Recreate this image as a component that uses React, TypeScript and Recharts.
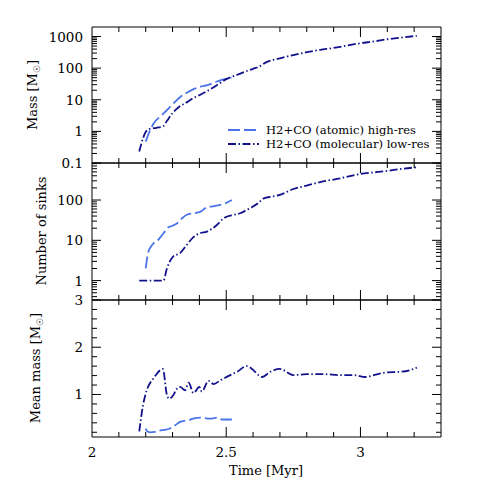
import React from 'react';
import { LineChart, Line, XAxis, YAxis, ReferenceArea } from 'recharts';

const W = 498;
const H = 498;
const LEFT = 92;
const RIGHT = 441;
const FONT = '"DejaVu Serif", serif';
const LIGHT = '#4b74e8';
const DARK = '#12128c';
const LIGHT_DASH = '12 4';
const DARK_DASH = '8 2.5 1.5 2.5';

// time axis
const timeTicks = [2.1, 2.2, 2.3, 2.4, 2.5, 2.6, 2.7, 2.8, 2.9, 3, 3.1, 3.2];
const timeLabels = [2, 2.5, 3];

// total mass [Msun]
const massHighT = [2.2, 2.21, 2.23, 2.255, 2.28, 2.305, 2.33, 2.355, 2.38, 2.405, 2.43, 2.455, 2.48, 2.5, 2.52];
const massHigh = [0.47, 0.8, 1.8, 3.0, 4.8, 8, 12.5, 17, 22, 26, 29, 35, 42, 46, 50];
const massLowT = [2.176, 2.19, 2.2, 2.215, 2.24, 2.265, 2.28, 2.3, 2.325, 2.35, 2.375, 2.4, 2.425, 2.45, 2.475, 2.5, 2.525, 2.55, 2.575, 2.6, 2.625, 2.65, 2.7, 2.75, 2.8, 2.85, 2.9, 2.95, 3.0, 3.05, 3.1, 3.15, 3.21];
const massLow = [0.23, 0.6, 0.95, 1.2, 1.3, 1.45, 2.2, 3.8, 6.0, 8.0, 11, 14, 18, 24, 33, 45, 55, 66, 80, 95, 115, 155, 205, 260, 320, 380, 435, 520, 615, 700, 820, 920, 1050];

// number of sinks
const sinksHighT = [2.2, 2.205, 2.21, 2.22, 2.23, 2.245, 2.255, 2.27, 2.28, 2.3, 2.316, 2.335, 2.353, 2.38, 2.403, 2.428, 2.45, 2.478, 2.5, 2.521];
const sinksHigh = [2, 3.5, 5.2, 7, 8.5, 10, 12, 16, 20, 23, 26, 35, 43, 47, 51, 66, 70, 76, 85, 100];
const sinksLowT = [2.176, 2.2, 2.23, 2.266, 2.279, 2.29, 2.303, 2.328, 2.353, 2.378, 2.403, 2.428, 2.445, 2.465, 2.49, 2.528, 2.552, 2.577, 2.6, 2.62, 2.64, 2.67, 2.7, 2.75, 2.8, 2.85, 2.913, 2.96, 3.0, 3.05, 3.1, 3.15, 3.21];
const sinksLow = [1, 1, 1, 1, 2, 3, 4, 4.8, 7.7, 12, 15, 16.5, 19, 24, 35, 43, 47, 57, 69, 85, 110, 122, 134, 188, 228, 280, 334, 390, 445, 485, 528, 590, 650];

// mean mass [Msun]
const meanHighT = [2.2, 2.205, 2.216, 2.235, 2.254, 2.27, 2.29, 2.31, 2.328, 2.35, 2.366, 2.385, 2.403, 2.42, 2.44, 2.455, 2.47, 2.484, 2.5, 2.521];
const meanHigh = [0.28, 0.22, 0.2, 0.21, 0.24, 0.25, 0.28, 0.35, 0.42, 0.45, 0.47, 0.5, 0.51, 0.5, 0.49, 0.5, 0.51, 0.47, 0.47, 0.47];
const meanLowT = [2.176, 2.19, 2.204, 2.229, 2.264, 2.279, 2.288, 2.303, 2.316, 2.328, 2.347, 2.36, 2.378, 2.4, 2.409, 2.434, 2.453, 2.478, 2.515, 2.54, 2.577, 2.6, 2.62, 2.633, 2.664, 2.7, 2.75, 2.8, 2.863, 2.925, 2.975, 3.019, 3.05, 3.1, 3.149, 3.187, 3.21];
const meanLow = [0.22, 0.77, 1.09, 1.34, 1.54, 0.99, 0.91, 0.99, 1.12, 1.16, 1.09, 1.25, 1.03, 1.16, 1.06, 1.29, 1.22, 1.3, 1.41, 1.48, 1.6, 1.52, 1.41, 1.37, 1.48, 1.54, 1.41, 1.43, 1.43, 1.41, 1.41, 1.37, 1.41, 1.47, 1.48, 1.52, 1.57];

const logTicksMass = [0.1, 0.2, 0.3, 0.4, 0.5, 0.6, 0.7, 0.8, 0.9, 1, 2, 3, 4, 5, 6, 7, 8, 9, 10, 20, 30, 40, 50, 60, 70, 80, 90, 100, 200, 300, 400, 500, 600, 700, 800, 900, 1000];
const logTicksSinks = [0.4, 0.5, 0.6, 0.7, 0.8, 0.9, 1, 2, 3, 4, 5, 6, 7, 8, 9, 10, 20, 30, 40, 50, 60, 70, 80, 90, 100, 200, 300, 400, 500, 600, 700, 800];
const linTicksMean = [0.2, 0.4, 0.6, 0.8, 1, 1.2, 1.4, 1.6, 1.8, 2, 2.2, 2.4, 2.6, 2.8, 3];

const zip = (t: number[], v: number[]) => t.map((x, i) => ({ t: x, v: v[i] }));

type Series = { data: { t: number; v: number }[]; color: string; dash: string; name: string };

function Panel(props: {
  top: number;
  bottom: number;
  scale: 'log' | 'linear';
  domain: [number, number];
  ticks: number[];
  labels: number[];
  series: Series[];
}) {
  const { top, bottom, scale, domain, ticks, labels, series } = props;

  const xTick = (p: any) => {
    const v = p.payload.value;
    const major = timeLabels.includes(v);
    const len = major ? 10 : 5;
    return (
      <g>
        <line x1={p.x} x2={p.x} y1={top} y2={top + len} stroke="#000" />
        <line x1={p.x} x2={p.x} y1={bottom - len} y2={bottom} stroke="#000" />
      </g>
    );
  };

  const yTick = (p: any) => {
    const v = p.payload.value;
    const major = labels.includes(v);
    const len = major ? 9 : 5;
    return (
      <g>
        <line x1={LEFT} x2={LEFT + len} y1={p.y} y2={p.y} stroke="#000" />
        <line x1={RIGHT - len} x2={RIGHT} y1={p.y} y2={p.y} stroke="#000" />
        {major && (
          <text x={83} y={p.y + 5} textAnchor="end" fontFamily={FONT} fontSize={13.5} fill="#000">
            {v}
          </text>
        )}
      </g>
    );
  };

  return (
    <div style={{ position: 'absolute', left: 0, top: 0 }}>
      <LineChart width={W} height={H} margin={{ top, bottom: H - bottom - 20, left: LEFT - 40, right: W - RIGHT }}>
        <XAxis
          type="number"
          dataKey="t"
          domain={[2, 3.3]}
          ticks={timeTicks}
          interval={0}
          tick={xTick}
          tickLine={false}
          axisLine={false}
          height={20}
          allowDataOverflow
        />
        <YAxis
          type="number"
          dataKey="v"
          scale={scale}
          domain={domain}
          ticks={ticks}
          interval={0}
          tick={yTick}
          tickLine={false}
          axisLine={false}
          width={40}
          allowDataOverflow
        />
        <ReferenceArea x1={2} x2={3.3} y1={domain[0]} y2={domain[1]} fill="none" stroke="#000" strokeWidth={1} ifOverflow="visible" />
        {series.map((s) => (
          <Line
            key={s.name}
            data={s.data}
            dataKey="v"
            type="monotone"
            stroke={s.color}
            strokeWidth={1.8}
            strokeDasharray={s.dash}
            dot={false}
            isAnimationActive={false}
          />
        ))}
      </LineChart>
    </div>
  );
}

const high = (data: { t: number; v: number }[]): Series => ({ data, color: LIGHT, dash: LIGHT_DASH, name: 'high' });
const low = (data: { t: number; v: number }[]): Series => ({ data, color: DARK, dash: DARK_DASH, name: 'low' });

export default function App() {
  return (
    <div style={{ position: 'absolute', left: 0, top: 0, width: W, height: H, background: '#fff' }}>
      <Panel
        top={27}
        bottom={163}
        scale="log"
        domain={[0.1, 2000]}
        ticks={logTicksMass}
        labels={[0.1, 1, 10, 100, 1000]}
        series={[high(zip(massHighT, massHigh)), low(zip(massLowT, massLow))]}
      />
      <Panel
        top={163}
        bottom={300}
        scale="log"
        domain={[0.33, 830]}
        ticks={logTicksSinks}
        labels={[1, 10, 100]}
        series={[high(zip(sinksHighT, sinksHigh)), low(zip(sinksLowT, sinksLow))]}
      />
      <Panel
        top={300}
        bottom={437}
        scale="linear"
        domain={[0.1, 3]}
        ticks={linTicksMean}
        labels={[1, 2, 3]}
        series={[high(zip(meanHighT, meanHigh)), low(zip(meanLowT, meanLow))]}
      />
      <svg width={W} height={H} style={{ position: 'absolute', left: 0, top: 0, pointerEvents: 'none' }}>
        <g fontFamily={FONT} fill="#000">
          {/* x tick labels */}
          <text x={LEFT} y={457} textAnchor="middle" fontSize={13.5}>2</text>
          <text x={LEFT + (RIGHT - LEFT) * (0.5 / 1.3)} y={457} textAnchor="middle" fontSize={13.5}>2.5</text>
          <text x={LEFT + (RIGHT - LEFT) * (1 / 1.3)} y={457} textAnchor="middle" fontSize={13.5}>3</text>
          <text x={266} y={475} textAnchor="middle" fontSize={13}>Time [Myr]</text>
          {/* y axis titles */}
          <text transform="translate(37,95) rotate(-90)" textAnchor="middle" fontSize={13}>
            Mass [M<tspan fontSize={9} dy={3}>☉</tspan><tspan dy={-3}>]</tspan>
          </text>
          <text transform="translate(46,231) rotate(-90)" textAnchor="middle" fontSize={13}>
            Number of sinks
          </text>
          <text transform="translate(40,368) rotate(-90)" textAnchor="middle" fontSize={13}>
            Mean mass [M<tspan fontSize={9} dy={3}>☉</tspan><tspan dy={-3}>]</tspan>
          </text>
          {/* legend */}
          <line x1={228} x2={259} y1={130} y2={130} stroke={LIGHT} strokeWidth={1.8} strokeDasharray={LIGHT_DASH} />
          <text x={266} y={134} fontSize={11.6}>H2+CO (atomic) high-res</text>
          <line x1={228} x2={259} y1={144} y2={144} stroke={DARK} strokeWidth={1.8} strokeDasharray={DARK_DASH} />
          <text x={266} y={148} fontSize={11.6}>H2+CO (molecular) low-res</text>
        </g>
      </svg>
    </div>
  );
}
